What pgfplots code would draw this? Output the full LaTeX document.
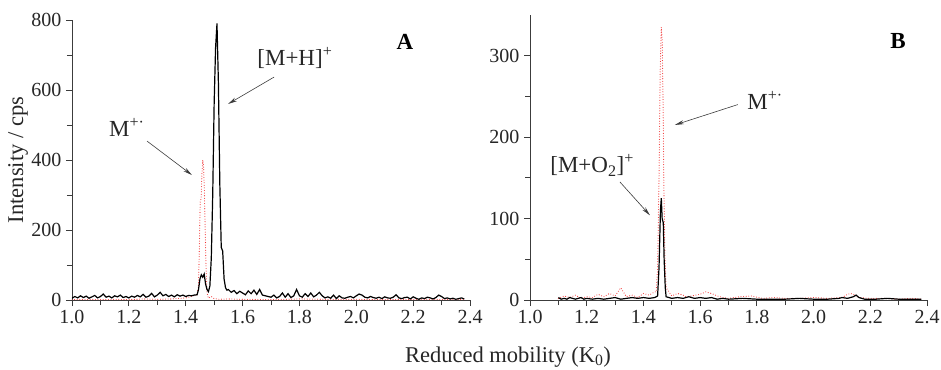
\documentclass[border=0pt]{standalone}
\usepackage{fontspec}
\setmainfont{Liberation Serif}
\usepackage{pgfplots}
\pgfplotsset{compat=1.18}
\usetikzlibrary{arrows.meta}
\definecolor{axgray}{RGB}{60,60,60}
\definecolor{dotred}{RGB}{240,50,50}
\tikzset{
  annot/.style={font=\fontsize{23}{24}\selectfont, text=black!85},
  arr/.style={-{Stealth[length=9pt,width=4pt]}, axgray, line width=0.6pt},
  reddot/.style={dotred, line width=1.1pt, line cap=round, dash pattern=on 0pt off 2.6pt},
}
\pgfplotsset{
  myax/.style={
    scale only axis,
    axis lines*=left,
    axis line style={axgray, line width=0.8pt},
    every tick/.style={axgray, line width=0.8pt},
    tick align=outside,
    major tick length=6pt,
    minor tick length=5pt,
    xmin=1.0, xmax=2.4,
    xtick={1.0,1.2,...,2.4},
    minor x tick num=1,
    minor y tick num=1,
    ymin=0,
    clip mode=individual,
    tick label style={font=\fontsize{20}{22}\selectfont, text=black!85},
    /pgf/number format/assume math mode=true,
    xticklabel style={/pgf/number format/.cd, fixed, fixed zerofill, precision=1},
    yticklabel style={/pgf/number format/.cd, fixed, precision=0},
    xticklabel shift=1pt,
    yticklabel shift=1pt,
  }
}
\begin{document}
\begin{tikzpicture}
\useasboundingbox (-72pt,-69pt) rectangle (869pt,300pt);
% ---------------- Panel A ----------------
\begin{axis}[myax, name=A, at={(0pt,0pt)}, anchor=south west,
  width=398pt, height=280pt, ymax=800, ytick={0,200,...,800}]
\addplot[reddot] coordinates {
(1.00,1)(1.05,2)(1.10,1)(1.15,2)(1.20,1)(1.25,3)(1.30,2)(1.35,3)(1.40,6)(1.42,10)(1.435,14)
(1.440,15)(1.445,40)(1.448,150)(1.451,280)(1.454,290)(1.457,360)(1.460,400)(1.463,380)
(1.466,300)(1.469,180)(1.472,80)(1.475,20)(1.480,5)(1.490,10)(1.500,4)(1.52,2)(1.55,3)
(1.60,2)(1.70,1)(1.80,3)(1.90,2)(2.00,2)(2.10,1)(2.20,2)(2.30,2)(2.38,1)
};
\addplot[black, line width=1.2pt] coordinates {
(1.00,5)(1.01,10)(1.02,6)(1.03,12)(1.04,7)(1.05,11)(1.06,5)(1.07,9)(1.08,13)(1.09,6)
(1.10,10)(1.11,17)(1.12,8)(1.13,11)(1.14,6)(1.15,12)(1.16,9)(1.17,14)(1.18,7)(1.19,10)
(1.20,6)(1.21,11)(1.22,8)(1.23,13)(1.24,9)(1.25,16)(1.26,8)(1.27,11)(1.28,19)(1.29,9)
(1.30,14)(1.31,22)(1.32,12)(1.33,16)(1.34,10)(1.35,14)(1.36,9)(1.37,15)(1.38,11)(1.39,14)
(1.40,10)(1.41,13)(1.42,12)(1.43,14)(1.44,15)
(1.445,30)(1.450,60)(1.455,72)(1.460,65)(1.465,74)(1.470,45)(1.475,30)(1.480,24)(1.485,40)
(1.490,120)(1.495,300)(1.500,560)(1.505,720)(1.510,790)(1.515,620)(1.520,330)(1.525,150)
(1.530,140)(1.535,60)(1.540,35)(1.545,28)
(1.55,30)(1.56,22)(1.57,27)(1.58,18)(1.59,25)(1.60,20)(1.61,15)(1.62,26)(1.63,18)(1.64,28)
(1.65,16)(1.66,30)(1.67,14)(1.68,12)(1.69,10)(1.70,8)(1.71,14)(1.72,6)(1.73,10)(1.74,20)
(1.75,8)(1.76,18)(1.77,7)(1.78,12)(1.79,30)(1.80,12)(1.81,8)(1.82,18)(1.83,10)(1.84,20)
(1.85,9)(1.86,14)(1.87,22)(1.88,12)(1.89,6)(1.90,9)(1.91,5)(1.92,14)(1.93,4)(1.94,12)
(1.95,6)(1.96,5)(1.97,8)(1.98,10)(1.99,6)(2.00,12)(2.01,17)(2.02,14)(2.03,8)(2.04,6)
(2.05,10)(2.06,7)(2.07,5)(2.08,8)(2.09,4)(2.10,9)(2.11,6)(2.12,5)(2.13,8)(2.14,15)
(2.15,6)(2.16,4)(2.17,7)(2.18,8)(2.19,3)(2.20,9)(2.21,5)(2.22,2)(2.23,6)(2.24,4)
(2.25,8)(2.26,6)(2.27,3)(2.28,7)(2.29,14)(2.30,10)(2.31,4)(2.32,6)(2.33,3)(2.34,5)
(2.35,2)(2.36,4)(2.37,6)(2.38,3)
};
\node[annot] at (axis cs:1.784,691) {[M+H]\textsuperscript{+}};
\draw[arr] (axis cs:1.711,637) -- (axis cs:1.549,560);
\node[annot] at (axis cs:1.193,494) {M\textsuperscript{+·}};
\draw[arr] (axis cs:1.264,454) -- (axis cs:1.422,357);
\node[font=\bfseries\fontsize{23}{24}\selectfont] at (axis cs:2.171,737) {A};
\end{axis}
% ---------------- Panel B ----------------
\begin{axis}[myax, name=B, at={(458pt,0pt)}, anchor=south west,
  width=397pt, height=285pt, ymax=350, ytick={0,100,200,300}]
\addplot[reddot] coordinates {
(1.10,2)(1.12,5)(1.14,3)(1.16,6)(1.18,2)(1.20,4)(1.22,3)(1.24,7)(1.26,4)(1.28,8)
(1.30,5)(1.32,15)(1.34,4)(1.36,6)(1.38,3)(1.40,8)(1.42,6)(1.44,10)
(1.445,10)(1.450,40)(1.455,150)(1.459,280)(1.463,335)(1.466,320)(1.469,250)(1.472,140)
(1.476,50)(1.480,15)(1.490,10)(1.500,5)(1.52,8)(1.54,6)(1.55,4)(1.57,5)(1.60,7)(1.62,10)
(1.64,8)(1.66,5)(1.68,3)(1.70,2)(1.74,4)(1.78,5)(1.82,2)(1.86,3)(1.90,2)(1.95,2)(2.00,3)
(2.05,2)(2.10,3)(2.12,7)(2.13,8)(2.14,7)(2.16,3)(2.20,2)(2.25,2)(2.30,1)(2.35,2)(2.38,1)
};
\addplot[black, line width=1.2pt] coordinates {
(1.10,3)(1.11,1)(1.12,2)(1.13,1)(1.14,3)(1.15,2)(1.16,1)(1.17,2)(1.18,3)(1.19,1)
(1.20,2)(1.22,1)(1.24,2)(1.26,1)(1.28,2)(1.30,3)(1.32,1)(1.34,2)(1.36,3)(1.38,2)
(1.40,3)(1.42,2)(1.44,3)(1.45,5)
(1.455,40)(1.460,110)(1.463,125)(1.466,100)(1.470,95)(1.473,50)(1.477,15)(1.480,4)
(1.50,2)(1.52,3)(1.54,2)(1.56,4)(1.58,2)(1.60,3)(1.62,2)(1.64,3)(1.66,1)(1.68,2)(1.70,1)
(1.75,2)(1.80,1)(1.85,1)(1.90,1)(1.95,2)(2.00,1)(2.05,1)(2.09,2)(2.10,3)(2.12,2)(2.14,4)
(2.15,6)(2.16,3)(2.18,1)(2.22,1)(2.26,2)(2.30,1)(2.34,1)(2.38,1)
};
\node[annot] at (axis cs:1.829,245) {M\textsuperscript{+·}};
\draw[arr] (axis cs:1.733,240) -- (axis cs:1.511,215);
\node[annot] at (axis cs:1.219,165) {[M+O\textsubscript{2}]\textsuperscript{+}};
\draw[arr] (axis cs:1.317,145) -- (axis cs:1.423,104);
\node[font=\bfseries\fontsize{23}{24}\selectfont] at (axis cs:2.298,318) {B};
\end{axis}
% labels
\node[anchor=base, font=\fontsize{22.5}{24}\selectfont, text=black!85] at (436pt,-62pt) {Reduced mobility (K\textsubscript{0})};
\node[rotate=90, font=\fontsize{22.5}{24}\selectfont, text=black!85] at (-54pt,140pt) {Intensity / cps};
\end{tikzpicture}
\end{document}
